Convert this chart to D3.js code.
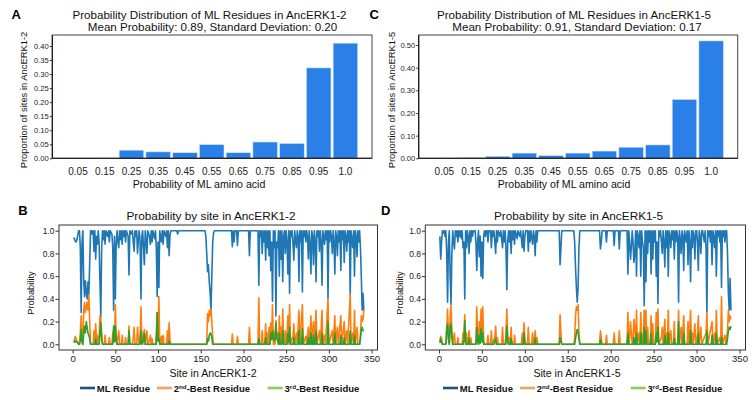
<!DOCTYPE html>
<html><head><meta charset="utf-8">
<script src="https://cdn.jsdelivr.net/npm/d3@7"></script>
<style>body{margin:0;background:#fff}svg{display:block;font-family:"Liberation Sans",Arial,sans-serif}</style>
</head><body><svg id="c" width="752" height="400"></svg>
<script>
// ---------- DATA ----------
const histCats = ["0.05","0.15","0.25","0.35","0.45","0.55","0.65","0.75","0.85","0.95","1.0"];
const histA = [0, 0, 0.029, 0.023, 0.020, 0.049, 0.020, 0.058, 0.053, 0.322, 0.410];
const histC = [0, 0.002, 0.009, 0.023, 0.012, 0.023, 0.032, 0.049, 0.059, 0.260, 0.518];
const histAYTicks = [0, 0.05, 0.10, 0.15, 0.20, 0.25, 0.30, 0.35, 0.40];
const histCYTicks = [0, 0.10, 0.20, 0.30, 0.40, 0.50];
const lineXTicks = [0, 50, 100, 150, 200, 250, 300, 350];
const lineYTicks = [0, 0.2, 0.4, 0.6, 0.8, 1.0];
const legendNames = ["ML Residue", "2nd-Best Residue", "3rd-Best Residue"];

// AncERK1-2 per-site probabilities [site, value]
const mlB = [[1,.94],[2,.93],[3,.91],[4,.9],[5,.92],[6,.96],[7,1],[8,1],[9,.85],[10,.28],[11,.9],[12,1],[13,.55],[14,.42],[15,.56],[16,.45],[17,.4],[18,.55],[19,.44],[20,.72],[21,1],[22,1],[23,.97],[24,1],[25,.82],[26,1],[27,.75],[28,.95],[29,.88],[30,1],[31,.9],[32,.55],[33,.24],[34,.85],[35,1],[36,.92],[37,1],[38,.88],[39,1],[41,.95],[42,1],[43,.9],[44,1],[46,.97],[47,.85],[48,.3],[49,.95],[50,.4],[51,.88],[52,1],[53,.9],[54,.85],[55,1],[56,.92],[57,1],[58,.88],[59,1],[60,.95],[61,1],[62,.9],[63,1],[65,.95],[66,.61],[67,1],[69,.97],[70,1],[71,.9],[72,.82],[73,1],[74,.95],[75,1],[76,.8],[77,.93],[78,1],[79,.9],[80,.4],[81,.95],[82,1],[83,.85],[84,.7],[85,1],[86,.92],[87,.8],[88,1],[90,.95],[91,.88],[92,1],[93,.9],[94,1],[96,.93],[97,1],[98,.85],[99,.42],[100,.9],[101,.5],[102,1],[104,.9],[105,1],[106,.88],[107,1],[109,.95],[110,1],[111,.85],[112,1],[113,.78],[114,.96],[115,1],[122,1],[123,.97],[124,1],[155,1],[156,.95],[157,.8],[158,.64],[159,.7],[160,.55],[161,.45],[162,.3],[163,.6],[164,.9],[165,.98],[166,1],[186,1],[187,.86],[188,1],[189,.9],[190,1],[192,1],[193,.87],[194,1],[206,1],[207,.78],[208,1],[217,1],[218,.52],[219,1],[220,.95],[221,1],[222,.8],[223,1],[224,.9],[225,1],[226,.74],[227,1],[228,.85],[229,1],[230,.78],[231,1],[232,.65],[233,.9],[234,.38],[235,1],[236,.85],[237,1],[238,.25],[239,.9],[240,.85],[241,1],[242,.6],[243,1],[244,.75],[245,1],[246,.55],[247,.95],[248,1],[249,.8],[250,1],[251,.9],[252,.62],[253,1],[254,.45],[255,1],[256,.95],[257,1],[258,.88],[259,.74],[260,1],[261,.92],[262,.85],[263,1],[264,.95],[265,.55],[266,1],[267,.9],[268,1],[269,.46],[270,1],[271,.95],[272,1],[273,.9],[274,1],[275,.95],[276,.75],[277,1],[278,.88],[279,.62],[280,1],[281,.95],[282,.7],[283,1],[284,.92],[285,.55],[286,1],[287,.95],[288,1],[289,.82],[290,1],[291,.9],[292,.52],[293,1],[294,.95],[295,.88],[296,1],[297,.92],[298,1],[299,.4],[300,1],[301,.9],[302,1],[303,.95],[304,.8],[305,1],[306,.9],[307,.62],[308,1],[309,.95],[310,.78],[311,1],[312,.9],[313,1],[314,.65],[315,1],[316,.92],[317,1],[318,.72],[319,1],[320,.95],[321,.82],[322,1],[323,.9],[324,1],[325,.43],[326,1],[327,.92],[328,.85],[329,1],[330,.6],[331,1],[332,.95],[333,.77],[334,1],[335,.9],[336,1],[337,.85],[338,.6],[339,.3],[340,.45],[341,.3]];
const secB = [[1,.02],[2,.03],[3,.07],[4,.05],[5,.03],[6,.02],[7,0],[8,0],[9,.1],[10,.25],[11,.06],[12,0],[13,.31],[14,.37],[15,.28],[16,.33],[17,.37],[18,.3],[19,.44],[20,.2],[21,0],[24,0],[25,.12],[26,0],[27,.18],[28,.03],[29,.08],[30,0],[31,.06],[32,.25],[33,.22],[34,.1],[35,0],[37,0],[38,.08],[39,0],[42,0],[43,.06],[44,0],[46,0],[47,.1],[48,.12],[49,.03],[50,.35],[51,.08],[52,0],[53,.06],[54,.12],[55,0],[57,0],[58,.08],[59,0],[61,0],[62,.06],[63,0],[65,0],[66,.16],[67,0],[70,0],[71,.06],[72,.15],[73,0],[75,0],[76,.15],[77,.05],[78,0],[79,.06],[80,.33],[81,.03],[82,0],[83,.1],[84,.13],[85,0],[86,.05],[87,.12],[88,0],[90,.03],[91,.08],[92,0],[93,.05],[94,0],[97,0],[98,.1],[99,.28],[100,.06],[101,.42],[102,0],[103,0],[104,.07],[105,0],[106,.08],[107,0],[110,0],[111,.12],[112,0],[113,.19],[114,.03],[115,0],[157,0],[158,.27],[159,.2],[160,.3],[161,.25],[162,.31],[163,.2],[164,.06],[165,0],[186,0],[187,.09],[188,0],[192,0],[193,.07],[194,0],[206,0],[207,.15],[208,0],[217,0],[218,.41],[219,0],[221,0],[222,.12],[223,0],[225,0],[226,.18],[227,0],[228,.1],[229,0],[230,.15],[231,0],[232,.19],[233,.05],[234,.35],[235,0],[236,.1],[237,0],[238,.21],[239,.05],[240,.1],[241,0],[242,.25],[243,0],[244,.15],[245,0],[246,.31],[247,.03],[248,0],[249,.12],[250,0],[251,.06],[252,.25],[253,0],[254,.35],[255,0],[258,.08],[259,.18],[260,0],[262,.1],[263,0],[265,.3],[266,0],[269,.35],[270,0],[273,.07],[274,0],[276,.15],[277,0],[278,.08],[279,.25],[280,0],[282,.2],[283,0],[285,.3],[286,0],[289,.12],[290,0],[292,.3],[293,0],[295,.08],[296,0],[299,.4],[300,0],[304,.12],[305,0],[307,.25],[308,0],[310,.15],[311,0],[314,.25],[315,0],[318,.2],[319,0],[321,.12],[322,0],[325,.44],[326,0],[328,.1],[329,0],[330,.3],[331,0],[333,.15],[334,0],[336,0],[337,.1],[338,.25],[339,.2],[340,.22],[341,.31]];
const thirdB = [[1,.02],[2,.02],[3,.03],[4,.02],[5,.02],[6,.01],[7,0],[8,0],[9,.03],[10,.13],[11,.02],[12,0],[13,.1],[14,.16],[15,.1],[16,.2],[17,.15],[18,.1],[19,.08],[20,.05],[21,0],[26,0],[27,.05],[28,0],[31,0],[32,.1],[33,.19],[34,.04],[35,0],[47,0],[48,.16],[49,.02],[50,.16],[51,.03],[52,0],[65,0],[66,.12],[67,0],[79,0],[80,.12],[81,0],[83,.03],[84,.1],[85,0],[98,0],[99,.28],[100,.03],[101,.05],[102,0],[112,0],[113,.03],[114,0],[157,0],[158,.05],[159,.03],[160,.08],[161,.1],[162,.09],[163,.06],[164,0],[217,0],[218,.05],[219,0],[225,0],[226,.06],[227,0],[231,0],[232,.1],[233,.04],[234,.12],[235,.05],[236,.03],[237,.06],[238,.19],[239,.05],[240,.03],[241,0],[242,.1],[243,0],[245,0],[246,.12],[247,0],[251,0],[252,.1],[253,.02],[254,.15],[255,0],[258,0],[259,.06],[260,0],[264,0],[265,.12],[266,0],[268,0],[269,.14],[270,0],[275,0],[276,.06],[277,0],[278,0],[279,.1],[280,0],[281,0],[282,.08],[283,0],[284,0],[285,.12],[286,0],[291,0],[292,.1],[293,0],[298,0],[299,.2],[300,0],[306,0],[307,.1],[308,0],[313,0],[314,.08],[315,0],[317,0],[318,.06],[319,0],[324,0],[325,.12],[326,0],[329,0],[330,.08],[331,0],[336,0],[337,.05],[338,.13],[339,.15],[340,.12],[341,.12]];

// AncERK1-5 per-site probabilities [site, value]
const mlD = [[1,.95],[2,.75],[3,.9],[4,1],[5,.98],[6,1],[7,.95],[8,1],[9,.8],[10,.37],[11,.9],[12,1],[13,.6],[14,.35],[15,.8],[16,1],[17,.9],[18,.84],[19,1],[20,.95],[21,1],[22,.9],[23,1],[24,.95],[25,1],[26,.93],[27,1],[28,.85],[29,.9],[30,.4],[31,1],[32,.85],[33,1],[34,.95],[35,.8],[36,1],[37,.9],[38,1],[39,.95],[40,1],[42,1],[43,.9],[44,.65],[45,.9],[46,1],[47,.77],[48,.95],[49,.6],[50,.9],[51,.58],[52,.95],[53,1],[54,.95],[55,1],[56,1],[57,.9],[58,1],[60,1],[61,.85],[62,1],[63,.95],[64,1],[65,.9],[66,.8],[67,1],[68,.9],[69,1],[71,.95],[72,1],[74,.85],[75,1],[76,.9],[77,1],[78,.85],[79,.48],[80,.9],[81,1],[82,.9],[83,1],[84,.8],[85,1],[86,.92],[87,1],[88,.88],[89,1],[91,.93],[92,1],[94,.95],[95,1],[97,.85],[98,1],[99,.82],[100,.95],[101,1],[103,1],[104,.82],[105,1],[106,.9],[107,1],[109,.88],[110,1],[111,.95],[112,.78],[113,1],[114,.9],[115,1],[140,1],[141,.7],[142,.85],[143,1],[157,1],[158,.9],[159,.68],[160,.5],[161,.37],[162,.5],[163,.85],[164,1],[187,1],[188,.84],[189,.9],[190,1],[194,1],[195,.9],[196,1],[203,1],[204,.87],[205,1],[209,1],[210,.84],[211,1],[219,1],[220,.62],[221,1],[222,.9],[223,.75],[224,.85],[225,1],[226,.9],[227,.72],[228,.8],[229,1],[230,.6],[231,1],[232,.95],[233,.85],[234,1],[235,.6],[236,1],[237,.9],[238,.85],[239,.34],[240,1],[241,.55],[242,1],[243,.8],[244,1],[245,.9],[246,1],[247,.62],[248,1],[249,.75],[250,1],[251,.9],[252,1],[253,.6],[254,.9],[255,.36],[256,1],[257,.95],[258,1],[259,.9],[260,.8],[261,1],[262,.9],[263,.68],[264,1],[265,.85],[266,1],[267,.6],[268,1],[269,.95],[270,.85],[271,1],[272,.92],[273,1],[274,.75],[275,1],[276,.9],[277,1],[278,.95],[279,.37],[280,1],[281,.92],[282,.8],[283,1],[284,.95],[285,.65],[286,1],[287,.95],[288,.9],[289,1],[290,.7],[291,1],[292,.9],[293,.55],[294,1],[295,.85],[296,1],[297,.95],[298,.75],[299,1],[300,1],[301,.9],[302,.65],[303,1],[304,.95],[305,.8],[306,1],[307,1],[308,.95],[309,.9],[310,1],[311,.85],[312,.28],[313,1],[314,.95],[315,1],[316,.9],[317,1],[318,.7],[319,1],[320,.95],[321,.85],[322,1],[323,.6],[324,1],[325,.95],[326,1],[327,.9],[328,1],[329,.5],[330,1],[331,.95],[332,1],[333,.9],[334,1],[335,1],[336,.8],[337,.45],[338,.3],[339,.58],[340,.3]];
const secD = [[1,.03],[2,.07],[3,.05],[4,0],[8,0],[9,.12],[10,.31],[11,.06],[12,0],[13,.25],[14,.34],[15,.12],[16,0],[17,.05],[18,.1],[19,0],[21,0],[22,.06],[23,0],[27,0],[28,.1],[29,.06],[30,.26],[31,0],[32,.1],[33,0],[34,.03],[35,.12],[36,0],[37,.06],[38,0],[43,0],[44,.33],[45,.08],[46,0],[47,.2],[48,.04],[49,.31],[50,.08],[51,.33],[52,.03],[53,0],[56,0],[57,.08],[58,0],[60,0],[61,.12],[62,0],[65,.06],[66,.16],[67,0],[68,.06],[69,0],[73,0],[74,.15],[75,0],[77,0],[78,.1],[79,.31],[80,.07],[81,0],[82,.06],[83,0],[84,.15],[85,0],[87,0],[88,.08],[89,0],[96,0],[97,.1],[98,0],[99,.19],[100,.04],[101,0],[103,0],[104,.15],[105,0],[108,0],[109,.1],[110,0],[111,.03],[112,.12],[113,0],[114,.06],[115,0],[140,0],[141,.26],[142,.1],[143,0],[157,0],[158,.06],[159,.25],[160,.33],[161,.3],[162,.35],[163,.1],[164,0],[187,0],[188,.12],[189,.06],[190,0],[194,0],[195,.08],[196,0],[203,0],[204,.1],[205,0],[209,0],[210,.12],[211,0],[219,0],[220,.28],[221,0],[222,.05],[223,.2],[224,.1],[225,0],[226,.05],[227,.22],[228,.15],[229,0],[230,.3],[231,0],[233,.1],[234,0],[235,.28],[236,0],[238,.1],[239,.3],[240,0],[241,.3],[242,0],[243,.15],[244,0],[246,0],[247,.25],[248,0],[249,.18],[250,0],[252,0],[253,.28],[254,.06],[255,.31],[256,0],[259,.06],[260,.15],[261,0],[263,.22],[264,0],[265,.1],[266,0],[267,.3],[268,0],[270,.12],[271,0],[273,0],[274,.2],[275,0],[278,0],[279,.3],[280,0],[282,.15],[283,0],[285,.25],[286,0],[289,0],[290,.2],[291,0],[293,.3],[294,0],[295,.1],[296,0],[298,.18],[299,0],[301,.08],[302,.25],[303,0],[305,.15],[306,0],[311,.1],[312,.28],[313,0],[318,.2],[319,0],[321,.1],[322,0],[323,.3],[324,0],[327,.06],[328,0],[329,.42],[330,0],[333,.08],[334,0],[336,.12],[337,.3],[338,.2],[339,.25],[340,.22]];
const thirdD = [[1,.01],[2,.05],[3,.02],[4,0],[8,0],[9,.15],[10,.18],[11,.04],[12,0],[13,.15],[14,.18],[15,.06],[16,0],[28,0],[29,.03],[30,.21],[31,0],[34,0],[35,.05],[36,0],[43,0],[44,.15],[45,.02],[46,0],[47,.08],[48,.01],[49,.14],[50,.02],[51,.1],[52,0],[64,0],[65,.03],[66,.05],[67,0],[78,0],[79,.16],[80,.03],[81,0],[83,0],[84,.05],[85,0],[98,0],[99,.1],[100,0],[111,0],[112,.05],[113,0],[140,0],[141,.06],[142,.02],[143,0],[158,0],[159,.05],[160,.1],[161,.13],[162,.1],[163,.05],[164,0],[187,0],[188,.04],[189,0],[219,0],[220,.1],[221,0],[226,0],[227,.06],[228,0],[229,0],[230,.1],[231,0],[234,0],[235,.1],[236,0],[238,0],[239,.15],[240,0],[241,.12],[242,0],[246,0],[247,.1],[248,0],[252,0],[253,.1],[254,.02],[255,.15],[256,0],[262,0],[263,.08],[264,0],[266,0],[267,.1],[268,0],[273,0],[274,.05],[275,0],[278,0],[279,.2],[280,0],[284,0],[285,.1],[286,0],[292,0],[293,.12],[294,0],[301,0],[302,.1],[303,0],[311,0],[312,.12],[313,0],[317,0],[318,.08],[319,0],[322,0],[323,.1],[324,0],[328,0],[329,.06],[330,0],[335,0],[336,.05],[337,.12],[338,.15],[339,.13],[340,.16]];

// ---------- DRAWING ----------
const svg = d3.select("#c");
const FONT_DARK = "#111";

function panelLetter(t, x, y) {
  svg.append("text").attr("x", x).attr("y", y).attr("font-size", 13).attr("font-weight", "bold")
    .attr("fill", "#000").text(t);
}

function styleAxis(sel, fs) {
  sel.select(".domain").remove();
  sel.selectAll(".tick line").attr("stroke", "#333");
  sel.selectAll(".tick text").attr("font-size", fs).attr("fill", "#222")
    .attr("font-family", "\"Liberation Sans\",Arial,sans-serif");
}

function drawHist(o, values, yticks) {
  const g = svg.append("g");
  const x = d3.scaleBand().domain(histCats).range([o.left + 12.3, o.right - 13.2])
    .paddingInner(0.08).paddingOuter(0.04);
  const y = d3.scaleLinear().domain([0, o.ymax]).range([o.bottom, o.top]);

  g.selectAll("rect.bar").data(values).join("rect").attr("class", "bar")
    .attr("x", (d, i) => x(histCats[i])).attr("y", d => y(d))
    .attr("width", x.bandwidth()).attr("height", d => o.bottom - y(d))
    .attr("fill", "#2a80e6").attr("stroke", "#d6e7fb").attr("stroke-width", 0.6);

  // frame
  g.append("rect").attr("x", o.left).attr("y", o.top).attr("width", o.right - o.left)
    .attr("height", o.bottom - o.top).attr("fill", "none").attr("stroke", "#444").attr("stroke-width", 1);
  g.append("line").attr("x1", o.left).attr("x2", o.right).attr("y1", o.bottom).attr("y2", o.bottom)
    .attr("stroke", "#111").attr("stroke-width", 1.1);
  g.append("line").attr("x1", o.left).attr("x2", o.left).attr("y1", o.top).attr("y2", o.bottom)
    .attr("stroke", "#111").attr("stroke-width", 1.1);

  const ya = g.append("g").attr("transform", `translate(${o.left},0)`)
    .call(d3.axisLeft(y).tickValues(yticks).tickFormat(d3.format(".2f")).tickSize(2.5).tickPadding(1));
  styleAxis(ya, 7.6);

  const xa = g.append("g").attr("transform", `translate(0,${o.bottom})`)
    .call(d3.axisBottom(x).tickSize(0).tickPadding(10));
  styleAxis(xa, 10);

  g.append("text").attr("x", o.titleX).attr("y", 18.5).attr("text-anchor", "middle")
    .attr("font-size", 11.6).attr("fill", FONT_DARK).text(o.title1);
  g.append("text").attr("x", o.titleX + 3).attr("y", 30.7).attr("text-anchor", "middle")
    .attr("font-size", 11.6).attr("fill", FONT_DARK).text(o.title2);
  g.append("text").attr("x", o.xTitleX).attr("y", 187.5).attr("text-anchor", "middle")
    .attr("font-size", 10.6).attr("fill", FONT_DARK).text("Probability of ML amino acid");
  g.append("text").attr("transform", `translate(${o.yTitleX},100) rotate(-90)`).attr("text-anchor", "middle")
    .attr("font-size", 9.4).attr("fill", FONT_DARK).text(o.yTitle);
}

const lineColors = ["#1f77b4", "#ff7f0e", "#2ca02c"];
const legendColors = ["#1f4f86", "#f7a25c", "#8ccd5a"];

function drawLines(o, series) {
  const g = svg.append("g");
  const x = d3.scaleLinear().domain([-15.95, 356.95]).range([o.left, o.right]);
  const y = d3.scaleLinear().domain([-0.05, 1.05]).range([o.bottom, o.top]);
  const line = d3.line().x(d => x(d[0])).y(d => y(d[1]));

  series.forEach((s, i) => {
    g.append("path").datum(s).attr("d", line).attr("fill", "none")
      .attr("stroke", lineColors[i]).attr("stroke-width", 1.6).attr("stroke-linejoin", "round");
  });

  g.append("rect").attr("x", o.left).attr("y", o.top).attr("width", o.right - o.left)
    .attr("height", o.bottom - o.top).attr("fill", "none").attr("stroke", "#333").attr("stroke-width", 1);

  const xa = g.append("g").attr("transform", `translate(0,${o.bottom})`)
    .call(d3.axisBottom(x).tickValues(lineXTicks).tickSize(3.5).tickPadding(1.5));
  styleAxis(xa, 9.6);
  const ya = g.append("g").attr("transform", `translate(${o.left},0)`)
    .call(d3.axisLeft(y).tickValues(lineYTicks).tickFormat(d3.format(".1f")).tickSize(3.5).tickPadding(1));
  styleAxis(ya, 8.4);

  g.append("text").attr("x", o.titleX).attr("y", 220).attr("text-anchor", "middle")
    .attr("font-size", 11.8).attr("fill", FONT_DARK).text(o.title);
  g.append("text").attr("x", o.xTitleX).attr("y", 376.7).attr("text-anchor", "middle")
    .attr("font-size", 10.6).attr("fill", FONT_DARK).text(o.xTitle);
  g.append("text").attr("transform", `translate(${o.yTitleX},293) rotate(-90)`).attr("text-anchor", "middle")
    .attr("font-size", 9.3).attr("fill", FONT_DARK).text("Probability");

  // legend
  const offs = [0, 77, 187.7];
  legendNames.forEach((name, i) => {
    const lx = o.legendX + offs[i];
    g.append("line").attr("x1", lx).attr("x2", lx + 15).attr("y1", 388).attr("y2", 388)
      .attr("stroke", legendColors[i]).attr("stroke-width", 2.6);
    const t = g.append("text").attr("x", lx + 16.8).attr("y", 392).attr("font-size", 9.5)
      .attr("font-weight", "bold").attr("fill", "#111");
    if (i === 0) { t.text(name); }
    else {
      const m = name.match(/^(\d)(\w\w)(.*)$/);
      t.append("tspan").text(m[1]);
      t.append("tspan").attr("font-size", 6.2).attr("dy", -3.5).text(m[2]);
      t.append("tspan").attr("dy", 3.5).text(m[3]);
    }
  });
}

panelLetter("A", 11.5, 18.5);
panelLetter("C", 369.5, 18.5);
panelLetter("B", 18.3, 215);
panelLetter("D", 381, 215);

drawHist({left: 52.3, right: 372, top: 35, bottom: 158.3, ymax: 0.439, titleX: 209.5, xTitleX: 199,
  yTitleX: 26.5, title1: "Probability Distribution of ML Residues in AncERK1-2",
  title2: "Mean Probability: 0.89, Standard Deviation: 0.20", yTitle: "Proportion of sites in AncERK1-2"}, histA, histAYTicks);
drawHist({left: 418.7, right: 737.7, top: 35, bottom: 158.3, ymax: 0.544, titleX: 574, xTitleX: 564,
  yTitleX: 394.5, title1: "Probability Distribution of ML Residues in AncERK1-5",
  title2: "Mean Probability: 0.91, Standard Deviation: 0.17", yTitle: "Proportion of sites in AncERK1-5"}, histC, histCYTicks);

drawLines({left: 59, right: 377.5, top: 225, bottom: 350, titleX: 211, xTitleX: 213, yTitleX: 33.5,
  legendX: 80, title: "Probability by site in AncERK1-2", xTitle: "Site in AncERK1-2"}, [mlB, secB, thirdB]);
drawLines({left: 425.3, right: 745.5, top: 225, bottom: 350, titleX: 578.5, xTitleX: 577, yTitleX: 402.5,
  legendX: 443, title: "Probability by site in AncERK1-5", xTitle: "Site in AncERK1-5"}, [mlD, secD, thirdD]);
</script></body></html>
